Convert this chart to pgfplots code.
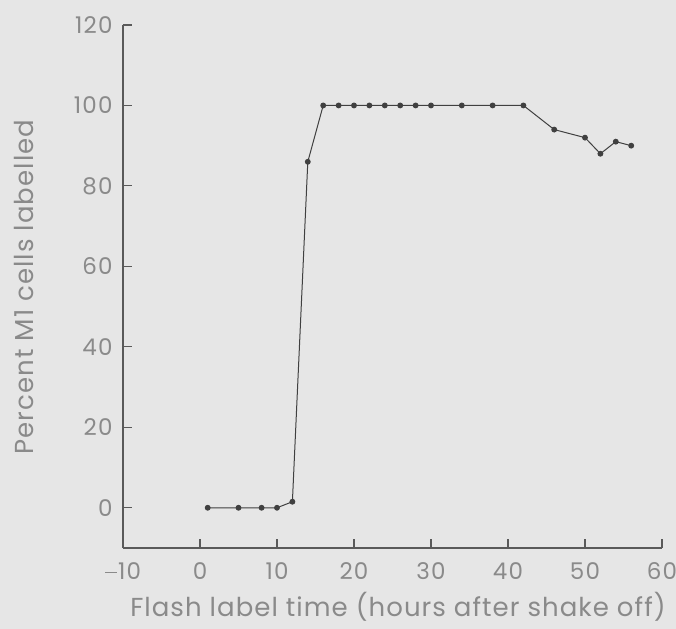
\documentclass[border=0pt]{standalone}
\usepackage{pgfplots}
\pgfplotsset{compat=1.18}
\usepackage{fontspec}
\setmainfont{Poppins}
\newfontfamily\tickfont[LetterSpace=5]{Poppins}
\newfontfamily\labfont[LetterSpace=4]{Poppins}
\definecolor{bg}{HTML}{E6E6E6}
\definecolor{txt}{HTML}{8A8A8A}
\definecolor{axc}{HTML}{5A5A5A}
\definecolor{ln}{HTML}{404040}
\newcommand{\mn}{\textcolor{txt}{\rule[6.5bp]{12bp}{1.3bp}}\hspace{1bp}}
\begin{document}
\begin{tikzpicture}[x=1bp,y=1bp]
\path[use as bounding box, fill=bg] (-123,-81) rectangle (553,548);
\begin{axis}[
  at={(0,0)}, anchor=south west,
  scale only axis, width=539bp, height=523bp,
  xmin=-10, xmax=60, ymin=-10, ymax=120,
  axis x line=bottom, axis y line=left,
  axis line style={-, draw=axc, line width=1.3bp},
  xtick={-10,0,...,60}, ytick={0,20,...,120},
  xticklabels={\mn10,0,10,20,30,40,50,60},
  tick align=inside, major tick length=9bp,
  tick style={draw=axc, line width=1.1bp},
  every tick label/.append style={font=\tickfont\fontsize{23bp}{25bp}\selectfont, text=txt},
  /pgf/number format/assume math mode=true,
  xticklabel style={yshift=-11bp},
  yticklabel style={xshift=-7bp},
  clip=false,
]
\addplot[ln, line width=1bp, mark=*, mark size=2.4bp, mark options={fill=ln, draw=ln}]
coordinates {
(1,0)(5,0)(8,0)(10,0)(12,1.5)(14,86)(16,100)(18,100)(20,100)(22,100)(24,100)(26,100)(28,100)(30,100)(34,100)(38,100)(42,100)(46,94)(50,92)(52,88)(54,91)(56,90)
};
\end{axis}
\node[text=txt, font=\labfont\fontsize{26bp}{28bp}\selectfont, rotate=90] at (-99,261) {Percent M1 cells labelled};
\node[text=txt, font=\labfont\fontsize{26bp}{28bp}\selectfont] at (275,-59) {Flash label time (hours after shake off)};
\end{tikzpicture}
\end{document}
